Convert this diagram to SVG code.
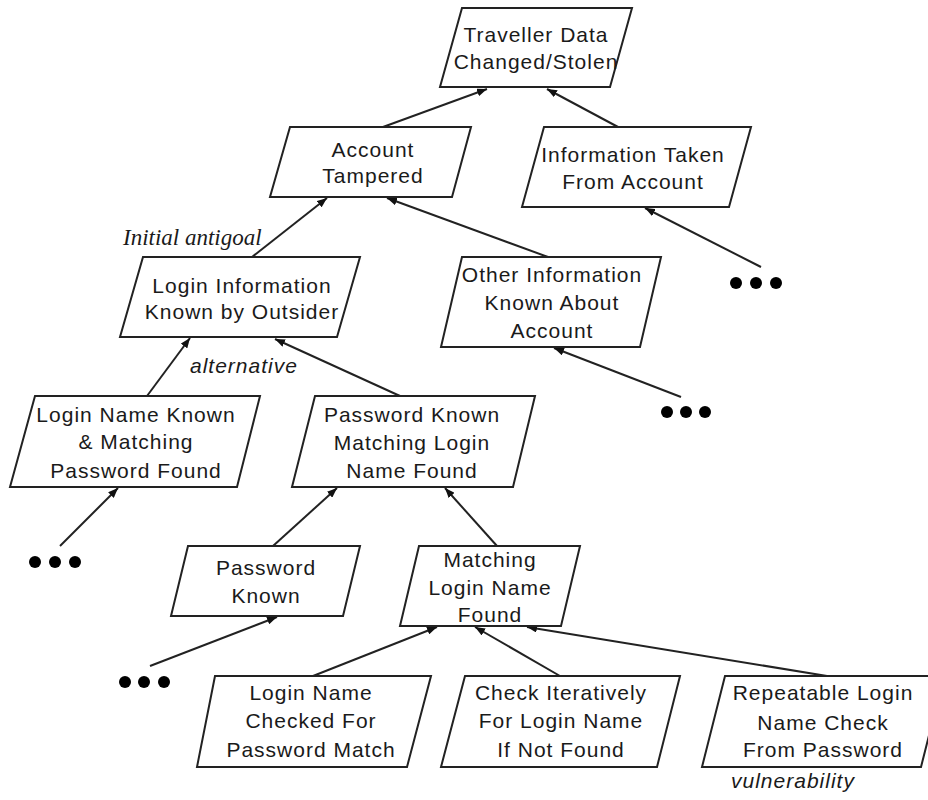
<svg xmlns="http://www.w3.org/2000/svg" width="928" height="800" viewBox="0 0 928 800">
  <defs>
    <marker id="arrow" viewBox="0 0 10 8" refX="10" refY="4" markerWidth="10" markerHeight="8" markerUnits="userSpaceOnUse" orient="auto">
      <path d="M0,0 L10,4 L0,8 Z" fill="#111"/>
    </marker>
  </defs>
  <style>
    .box { fill: #fff; stroke: #222; stroke-width: 2; }
    .lbl { font-family: "Liberation Sans", Arial, sans-serif; font-size: 21px; letter-spacing: 1px; fill: #1a1a1a; text-anchor: middle; }
    .note { font-family: "Liberation Sans", Arial, sans-serif; font-size: 21px; letter-spacing: 1px; font-style: italic; fill: #1a1a1a; }
    .serif { font-family: "Liberation Serif", "Times New Roman", serif; font-size: 23px; font-style: italic; fill: #1a1a1a; }
    .edge { stroke: #222; stroke-width: 2; fill: none; marker-end: url(#arrow); }
    .dot { fill: #000; }
  </style>
  <rect width="928" height="800" fill="#fff"/>

  <!-- connectors -->
  <g id="connectors">
    <line class="edge" x1="383" y1="127" x2="487" y2="89"/>
    <line class="edge" x1="618" y1="127" x2="547" y2="89"/>
    <line class="edge" x1="252" y1="257" x2="327" y2="198"/>
    <line class="edge" x1="548" y1="257" x2="387" y2="198"/>
    <line class="edge" x1="761" y1="267" x2="645" y2="208"/>
    <line class="edge" x1="681" y1="397" x2="554" y2="348"/>
    <line class="edge" x1="147" y1="396" x2="190" y2="338"/>
    <line class="edge" x1="400" y1="396" x2="275" y2="339"/>
    <line class="edge" x1="60" y1="546" x2="118" y2="488"/>
    <line class="edge" x1="273" y1="546" x2="337" y2="488"/>
    <line class="edge" x1="497" y1="546" x2="445" y2="488"/>
    <line class="edge" x1="150" y1="666" x2="277" y2="617"/>
    <line class="edge" x1="313" y1="676" x2="437" y2="627"/>
    <line class="edge" x1="560" y1="676" x2="475" y2="627"/>
    <line class="edge" x1="827" y1="676" x2="527" y2="627"/>
  </g>

  <!-- goal nodes -->
  <g id="traveller-data">
    <polygon class="box" points="462,8 632,8 610,87 440,87"/>
    <text class="lbl" x="536" y="42">Traveller Data</text>
    <text class="lbl" x="536" y="69">Changed/Stolen</text>
  </g>

  <g id="account-tampered">
    <polygon class="box" points="290,127 471,127 452,197 270,197"/>
    <text class="lbl" x="373" y="157">Account</text>
    <text class="lbl" x="373" y="183">Tampered</text>
  </g>

  <g id="information-taken">
    <polygon class="box" points="544,127 751,127 729,207 522,207"/>
    <text class="lbl" x="633" y="162">Information Taken</text>
    <text class="lbl" x="633" y="189">From Account</text>
  </g>

  <g id="login-information">
    <polygon class="box" points="143,257 360,257 337,337 120,337"/>
    <text class="lbl" x="242" y="293">Login Information</text>
    <text class="lbl" x="242" y="319">Known by Outsider</text>
  </g>

  <g id="other-information">
    <polygon class="box" points="462,257 661,257 640,347 441,347"/>
    <text class="lbl" x="552" y="282">Other Information</text>
    <text class="lbl" x="552" y="310">Known About</text>
    <text class="lbl" x="552" y="338">Account</text>
  </g>

  <g id="login-name-known">
    <polygon class="box" points="35,396 260,396 237,487 10,487"/>
    <text class="lbl" x="136" y="422">Login Name Known</text>
    <text class="lbl" x="136" y="449">&amp; Matching</text>
    <text class="lbl" x="136" y="478">Password Found</text>
  </g>

  <g id="password-known-matching">
    <polygon class="box" points="315,396 535,396 513,487 292,487"/>
    <text class="lbl" x="412" y="422">Password Known</text>
    <text class="lbl" x="412" y="450">Matching Login</text>
    <text class="lbl" x="412" y="478">Name Found</text>
  </g>

  <g id="password-known">
    <polygon class="box" points="188,546 360,546 343,616 171,616"/>
    <text class="lbl" x="266" y="575">Password</text>
    <text class="lbl" x="266" y="603">Known</text>
  </g>

  <g id="matching-login-name">
    <polygon class="box" points="419,546 580,546 561,626 400,626"/>
    <text class="lbl" x="490" y="567">Matching</text>
    <text class="lbl" x="490" y="595">Login Name</text>
    <text class="lbl" x="490" y="622">Found</text>
  </g>

  <g id="login-name-checked">
    <polygon class="box" points="215,676 431,676 407,767 197,767"/>
    <text class="lbl" x="311" y="700">Login Name</text>
    <text class="lbl" x="311" y="728">Checked For</text>
    <text class="lbl" x="311" y="757">Password Match</text>
  </g>

  <g id="check-iteratively">
    <polygon class="box" points="465,676 680,676 657,767 441,767"/>
    <text class="lbl" x="561" y="700">Check Iteratively</text>
    <text class="lbl" x="561" y="728">For Login Name</text>
    <text class="lbl" x="561" y="757">If Not Found</text>
  </g>

  <g id="repeatable-check">
    <polygon class="box" points="725,676 944,676 921,767 702,767"/>
    <text class="lbl" x="823" y="700">Repeatable Login</text>
    <text class="lbl" x="823" y="730">Name Check</text>
    <text class="lbl" x="823" y="757">From Password</text>
  </g>

  <!-- annotations -->
  <g id="annotations">
    <text class="serif" x="123" y="245">Initial antigoal</text>
    <text class="note" x="190" y="373">alternative</text>
    <text class="note" x="731" y="788">vulnerability</text>
  </g>

  <!-- elided subtrees -->
  <g id="more-information-taken">
    <circle class="dot" cx="736" cy="283" r="6"/>
    <circle class="dot" cx="756" cy="283" r="6"/>
    <circle class="dot" cx="776" cy="283" r="6"/>
  </g>
  <g id="more-other-information">
    <circle class="dot" cx="667" cy="412" r="6"/>
    <circle class="dot" cx="686" cy="412" r="6"/>
    <circle class="dot" cx="705" cy="412" r="6"/>
  </g>
  <g id="more-login-name-known">
    <circle class="dot" cx="35" cy="562" r="6"/>
    <circle class="dot" cx="55" cy="562" r="6"/>
    <circle class="dot" cx="75" cy="562" r="6"/>
  </g>
  <g id="more-password-known">
    <circle class="dot" cx="125" cy="682" r="6"/>
    <circle class="dot" cx="144" cy="682" r="6"/>
    <circle class="dot" cx="164" cy="682" r="6"/>
  </g>
</svg>
